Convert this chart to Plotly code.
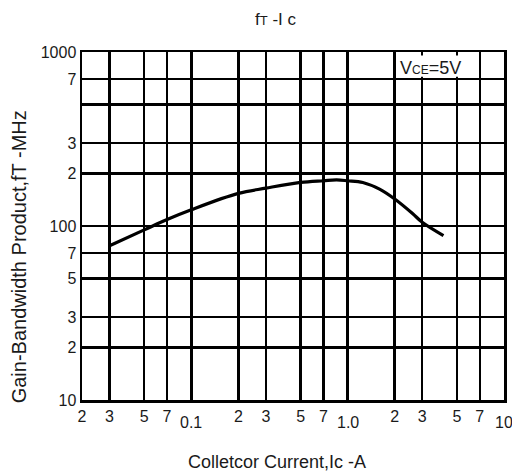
import math
import plotly.graph_objects as go

# Data
ic_a = [0.03, 0.05, 0.07, 0.1, 0.2, 0.3, 0.5, 0.7, 0.85, 1.0, 1.25, 1.6, 2.0, 2.6, 3.0, 4.1]
ft_mhz = [77, 95, 109, 124, 154, 165, 178, 182, 184, 182, 178, 163, 143, 118, 105, 88]

x_tickvals = [0.02, 0.03, 0.05, 0.07, 0.1, 0.2, 0.3, 0.5, 0.7, 1.0, 2, 3, 5, 7, 10]
x_ticktext = ["2", "3", "5", "7", "", "2", "3", "5", "7", "", "2", "3", "5", "7", ""]
x_decade_vals = [0.1, 1.0, 10]
x_decade_text = ["0.1", "1.0", "10"]

y_tickvals = [10, 20, 30, 50, 70, 100, 200, 300, 500, 700, 1000]
y_ticktext = ["10", "2", "3", "5", "7", "100", "2", "3", "", "7", "1000"]

FONT = "Liberation Sans, Arial, sans-serif"
TXT = "#1a1a1a"

fig = go.Figure()
fig.add_trace(go.Scatter(
    x=ic_a, y=ft_mhz, mode="lines",
    line=dict(color="black", width=3.2, shape="spline", smoothing=1.0),
    hoverinfo="skip", showlegend=False,
))

axis_common = dict(
    type="log", showgrid=True, gridcolor="black", gridwidth=2.5,
    showline=True, linecolor="black", linewidth=2.5, mirror=True,
    zeroline=False, ticks="", tickmode="array",
    tickfont=dict(family=FONT, size=16, color=TXT),
)

fig.update_xaxes(
    **axis_common,
    range=[math.log10(0.02), 1],
    tickvals=x_tickvals, ticktext=x_ticktext,
    ticklabelstandoff=0,
)
fig.update_yaxes(
    **axis_common,
    range=[1, 3],
    tickvals=y_tickvals, ticktext=y_ticktext,
    ticklabelstandoff=0,
)

annotations = []
for v, t in zip(x_decade_vals, x_decade_text):
    annotations.append(dict(
        x=math.log10(v), y=0, xref="x", yref="paper",
        text=t, showarrow=False, yanchor="top", xanchor="center",
        yshift=-12, font=dict(family=FONT, size=16, color=TXT),
    ))
annotations.append(dict(
    x=math.log10(3.4), y=math.log10(810), xref="x", yref="y",
    text="V<span style='font-size:12px'>CE</span>=5V", showarrow=False,
    xanchor="center", yanchor="middle",
    font=dict(family=FONT, size=18, color=TXT),
))
annotations.append(dict(
    x=0.459, y=1, xref="paper", yref="paper", yshift=33,
    text="f<span style='font-size:13px'>T</span> -I c", showarrow=False,
    xanchor="center", yanchor="middle",
    font=dict(family=FONT, size=17, color=TXT),
))
annotations.append(dict(
    x=0.461, y=0, xref="paper", yref="paper", yshift=-62,
    text="Colletcor Current,Ic -A", showarrow=False,
    xanchor="center", yanchor="middle",
    font=dict(family=FONT, size=18, color=TXT),
))
annotations.append(dict(
    x=0, y=0.41, xref="paper", yref="paper", xshift=-63,
    text="Gain-Bandwidth Product,fT -MHz", showarrow=False, textangle=-90,
    xanchor="center", yanchor="middle",
    font=dict(family=FONT, size=20, color=TXT),
))

# white box behind the V_CE label, covering part of the grid
fig.add_shape(type="rect", xref="x", yref="y",
              x0=2.07, x1=6.4, y0=720, y1=955,
              fillcolor="white", line=dict(width=0), layer="above")

fig.update_layout(
    width=512, height=474,
    margin=dict(l=82, r=5, t=52, b=74),
    paper_bgcolor="white", plot_bgcolor="white",
    annotations=annotations,
    font=dict(family=FONT, color=TXT),
)

fig.write_html(
    "out.html",
    config={"displayModeBar": False, "staticPlot": True},
    post_script="document.body.style.margin='0px';document.body.style.overflow='hidden';",
)
